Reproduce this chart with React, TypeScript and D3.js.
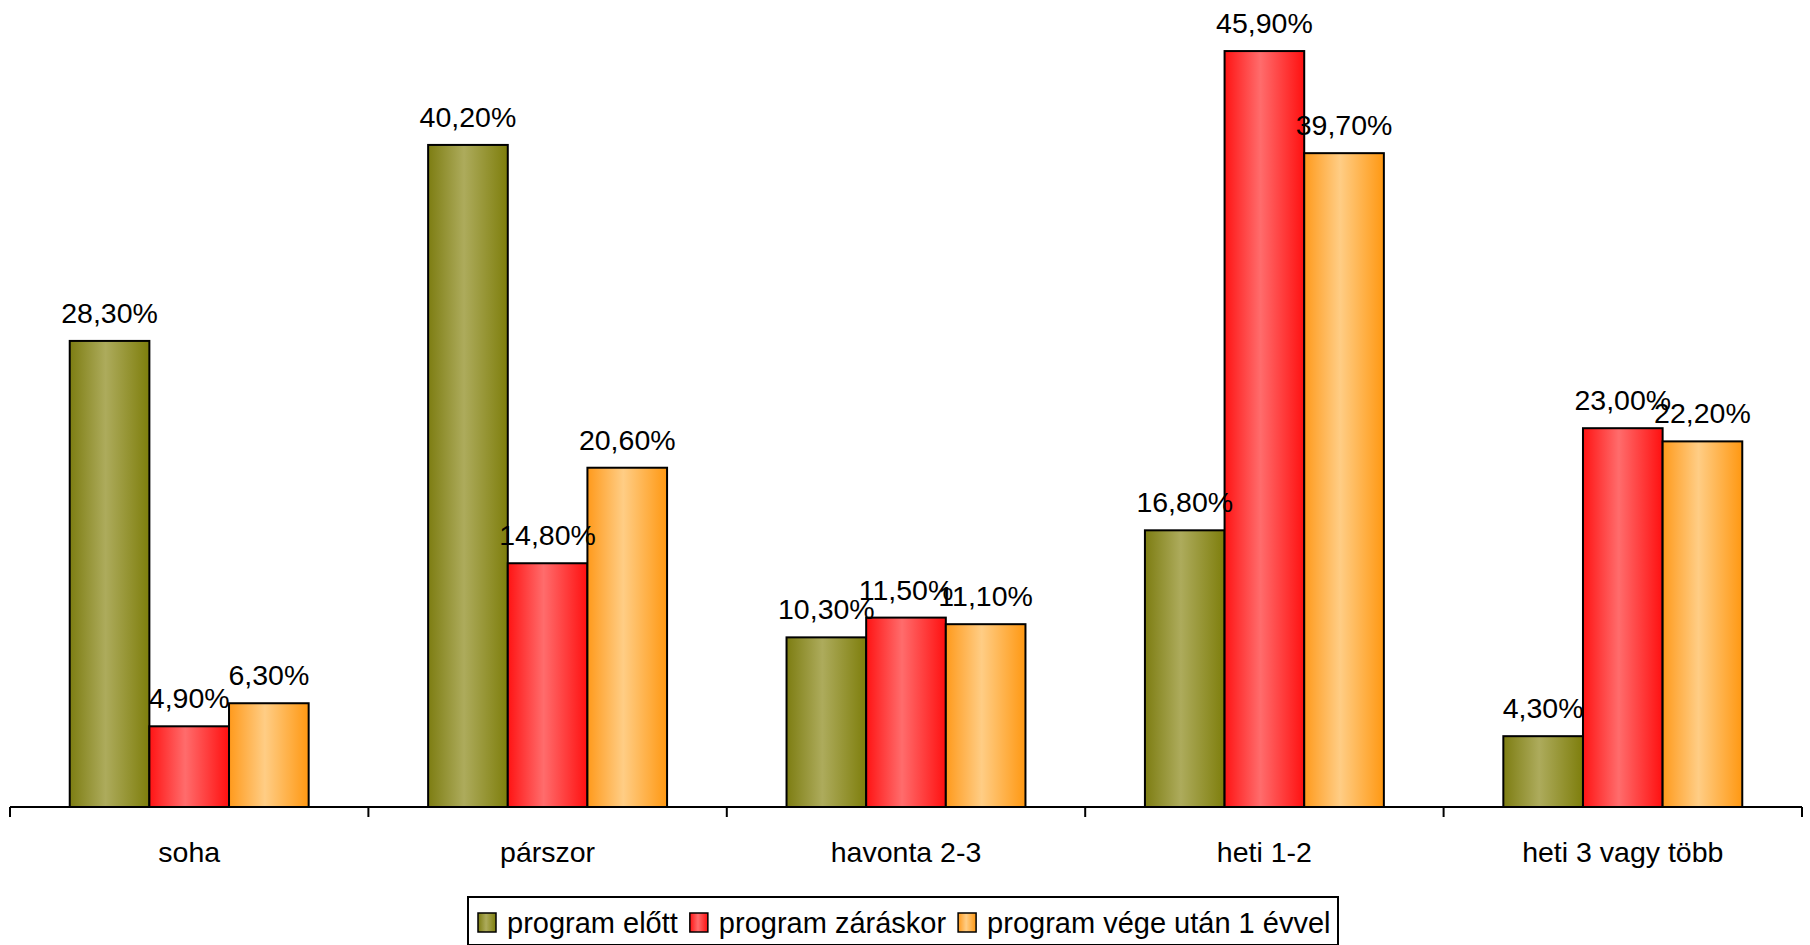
import React from "react";
import * as d3 from "d3";

const categories = ["soha", "párszor", "havonta 2-3", "heti 1-2", "heti 3 vagy több"];
const seriesNames = ["program előtt", "program záráskor", "program vége után 1 évvel"];
const elott = [28.3, 40.2, 10.3, 16.8, 4.3];
const zaraskor = [4.9, 14.8, 11.5, 45.9, 23.0];
const egyEvvel = [6.3, 20.6, 11.1, 39.7, 22.2];
const seriesValues = [elott, zaraskor, egyEvvel];

// edge / centre / edge colours of each series' gradient
const gradients = [
  { id: "g-elott", edge: "#7d7d12", mid: "#adab5c", edge2: "#7e7e0c" },
  { id: "g-zaras", edge: "#ff1414", mid: "#ff6c6c", edge2: "#ff1010" },
  { id: "g-evvel", edge: "#ff9a1c", mid: "#ffcd85", edge2: "#ff9812" },
];

const W = 1810;
const H = 945;
const FONT = "'Liberation Sans', Arial, sans-serif";

const fmt = (v: number) => v.toFixed(2).replace(".", ",") + "%";

function textWidth(s: string, size: number) {
  const c = document.createElement("canvas").getContext("2d")!;
  c.font = `${size}px 'Liberation Sans', Arial, sans-serif`;
  return c.measureText(s).width;
}

export default function App() {
  const x0 = d3.scaleBand<string>().domain(categories).range([10, 1802]).paddingInner(0).paddingOuter(0);
  const x1 = d3
    .scaleBand<number>()
    .domain([0, 1, 2])
    .range([0, x0.bandwidth()])
    .paddingInner(0)
    .paddingOuter(0.75);
  const y = d3.scaleLinear().domain([0, 49]).range([807, 0]);
  const axisY = y(0);

  const labelFont = 28.5;

  // legend layout
  const legendFont = 29;
  const sw = 18;
  let lx = 478;
  const legendItems = seriesNames.map((name, i) => {
    const item = { name, i, sx: lx, tx: lx + sw + 11 };
    lx = item.tx + textWidth(name, legendFont) + 12;
    return item;
  });

  return (
    <svg
      width={W}
      height={H}
      style={{ position: "absolute", left: 0, top: 0, background: "#fff" }}
      fontFamily={FONT}
    >
      <defs>
        {gradients.map((g) => (
          <linearGradient key={g.id} id={g.id} x1="0" x2="1" y1="0" y2="0">
            <stop offset="0" stopColor={g.edge} />
            <stop offset="0.45" stopColor={g.mid} />
            <stop offset="1" stopColor={g.edge2} />
          </linearGradient>
        ))}
      </defs>
      <rect x={0} y={0} width={W} height={H} fill="#fff" />

      {/* bars */}
      {categories.map((c, ci) =>
        seriesValues.map((vals, si) => {
          const bx = x0(c)! + x1(si)!;
          const by = y(vals[ci]);
          return (
            <rect
              key={`${ci}-${si}`}
              x={bx}
              y={by}
              width={x1.bandwidth()}
              height={axisY - by}
              fill={`url(#${gradients[si].id})`}
              stroke="#000"
              strokeWidth={2}
            />
          );
        })
      )}

      {/* axis */}
      <line x1={10} x2={1802} y1={axisY} y2={axisY} stroke="#000" strokeWidth={2} />
      {[...categories.map((c) => x0(c)!), 1802].map((tx, i) => (
        <line key={i} x1={tx} x2={tx} y1={axisY} y2={axisY + 10} stroke="#000" strokeWidth={2} />
      ))}
      {categories.map((c) => (
        <text
          key={c}
          x={x0(c)! + x0.bandwidth() / 2}
          y={862}
          textAnchor="middle"
          fontSize={labelFont}
          fill="#000"
        >
          {c}
        </text>
      ))}

      {/* value labels */}
      {categories.map((c, ci) =>
        seriesValues.map((vals, si) => (
          <text
            key={`l-${ci}-${si}`}
            x={x0(c)! + x1(si)! + x1.bandwidth() / 2}
            y={y(vals[ci]) - 18}
            textAnchor="middle"
            fontSize={labelFont}
            fill="#000"
          >
            {fmt(vals[ci])}
          </text>
        ))
      )}

      {/* legend */}
      <rect x={468} y={897} width={870} height={48} fill="#fff" stroke="#000" strokeWidth={2} />
      {legendItems.map((it) => (
        <g key={it.name}>
          <rect
            x={it.sx}
            y={913}
            width={sw}
            height={19}
            fill={`url(#${gradients[it.i].id})`}
            stroke="#000"
            strokeWidth={1.5}
          />
          <text x={it.tx} y={933} fontSize={legendFont} fill="#000">
            {it.name}
          </text>
        </g>
      ))}
    </svg>
  );
}
